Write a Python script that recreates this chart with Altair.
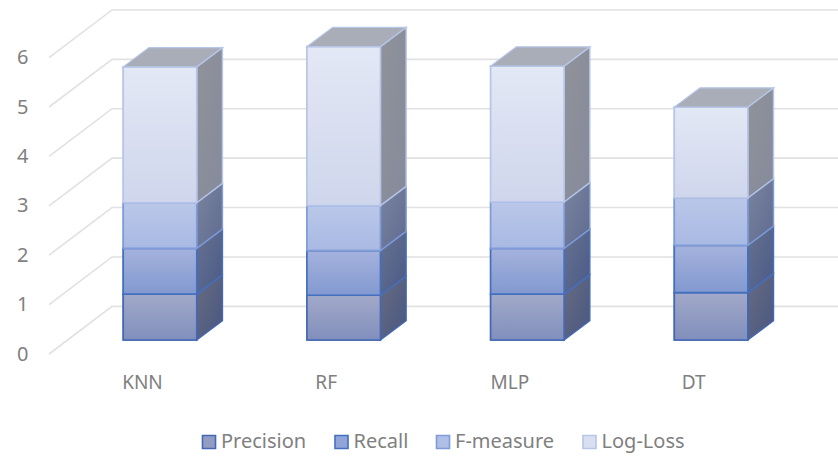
import altair as alt
import pandas as pd

models = ["KNN", "RF", "MLP", "DT"]
series = ["Precision", "Recall", "F-measure", "Log-Loss"]
precision = [0.93, 0.905, 0.93, 0.96]
recall = [0.925, 0.905, 0.925, 0.955]
f_measure = [0.925, 0.91, 0.94, 0.96]
log_loss = [2.75, 3.22, 2.75, 1.84]
y_ticks = [0, 1, 2, 3, 4, 5, 6]

swatch_fill = ["#939dc4", "#92a5d8", "#afbfe6", "#d9dff1"]
edge = ["#4468b4", "#4470c0", "#7f9cd8", "#b6c5e8"]
front_top = ["#a2a9c9", "#a5b2dd", "#bac7e9", "#e3e8f5"]
front_bottom = ["#818fbc", "#8299d0", "#a8b9e3", "#cfd6ec"]
side_top = ["#686c82", "#68728f", "#7a849f", "#909399"]
side_bottom = ["#485680", "#4a5a88", "#5f6b90", "#858a9c"]
cap_fill = "#a9adb8"
grid_color = "#e1e1e1"
text_color = "#808080"
font = "Noto Sans"

half_bar = 0.2
depth_x = 0.14
depth_y = 0.39

totals = [0.0] * len(models)
front_rows, side_rows, cap_rows = [], [], []
for name, vals in zip(series, [precision, recall, f_measure, log_loss]):
    for i, (model, v) in enumerate(zip(models, vals)):
        lo, hi = totals[i], totals[i] + v
        totals[i] = hi
        left, right = i - half_bar, i + half_bar
        front_rows.append(dict(model=model, series=name, x=left, x2=right, y=lo, y2=hi))
        for x, dy in [(right, 0.0), (right + depth_x, depth_y)]:
            side_rows.append(dict(model=model, series=name, x=x, y=lo + dy, y2=hi + dy))

for i, (model, top) in enumerate(zip(models, totals)):
    left, right = i - half_bar, i + half_bar
    cap_rows += [
        dict(model=model, x=left, y=top, y2=top),
        dict(model=model, x=left + depth_x, y=top, y2=top + depth_y),
        dict(model=model, x=right, y=top, y2=top + depth_y),
        dict(model=model, x=right + depth_x, y=top + depth_y, y2=top + depth_y),
    ]

front = pd.DataFrame(front_rows)
side = pd.DataFrame(side_rows)
cap = pd.DataFrame(cap_rows)

# Back-wall gridlines: a diagonal run along the floor edge, then the wall itself.
grid_rows = []
for t in y_ticks:
    grid_rows += [
        dict(tick=t, x=-0.604, y=t - 0.283),
        dict(tick=t, x=-0.261, y=t + 0.682),
        dict(tick=t, x=3.691, y=t + 0.682),
    ]
grid = pd.DataFrame(grid_rows)

x_scale = alt.Scale(domain=[-0.871, 3.691], nice=False, zero=False)
y_scale = alt.Scale(domain=[-2.368, 6.883], nice=False, zero=False)
label_array = "[" + ",".join(f"'{m}'" for m in models) + "]"

x_axis = alt.Axis(
    values=list(range(len(models))), labelExpr=f"{label_array}[datum.value]",
    domain=False, ticks=False, grid=False, title=None, orient="bottom", offset=-84,
    labelOffset=-18, labelPadding=0, labelFontSize=19, labelFont=font,
    labelColor=text_color, labelOverlap=False, labelFlush=False,
)
y_axis = alt.Axis(
    values=y_ticks, domain=False, ticks=False, grid=False, title=None, offset=-30,
    labelOffset=14, labelPadding=2, labelFontSize=20, labelFont=font,
    labelColor=text_color, labelOverlap=False, labelFlush=False, format="d",
)
x_enc = alt.X("x:Q", scale=x_scale, axis=x_axis)
y_enc = alt.Y("y:Q", scale=y_scale, axis=y_axis)


def gradient(c0, c1, x2=0, y2=1):
    return alt.Gradient(
        gradient="linear", x1=0, y1=0, x2=x2, y2=y2,
        stops=[alt.GradientStop(offset=0, color=c0), alt.GradientStop(offset=1, color=c1)],
    )


grid_layer = alt.Chart(grid).mark_line(color=grid_color, strokeWidth=1.6).encode(
    x=x_enc, y=y_enc, detail="tick:N",
)

# Solid bars carry the legend; the shaded faces are laid over them.
base_bars = alt.Chart(front).mark_rect(strokeWidth=1.6).encode(
    x=x_enc,
    x2="x2:Q",
    y=y_enc,
    y2="y2:Q",
    fill=alt.Fill("series:N", scale=alt.Scale(domain=series, range=swatch_fill), legend=alt.Legend(
        orient="none", legendX=199, legendY=432, direction="horizontal", columns=4, title=None,
        symbolType="square", symbolSize=170, symbolStrokeWidth=1.6, labelFont=font,
        labelFontSize=20, labelColor=text_color, labelOffset=2, columnPadding=24.5,
    )),
    stroke=alt.Stroke("series:N", scale=alt.Scale(domain=series, range=edge)),
)

layers = [grid_layer, base_bars]
for k, name in enumerate(series):
    layers.append(
        alt.Chart(side[side.series == name]).mark_area(
            orient="vertical", color=gradient(side_top[k], side_bottom[k], x2=1, y2=1),
            stroke=edge[k], strokeWidth=1.4,
        ).encode(x=x_enc, y=y_enc, y2="y2:Q", detail="model:N")
    )
    layers.append(
        alt.Chart(front[front.series == name]).mark_rect(
            color=gradient(front_top[k], front_bottom[k]), stroke=edge[k], strokeWidth=1.6,
        ).encode(x=x_enc, x2="x2:Q", y=y_enc, y2="y2:Q")
    )

layers.append(
    alt.Chart(cap).mark_area(orient="vertical", color=cap_fill, stroke=edge[3], strokeWidth=1.2).encode(
        x=x_enc, y=y_enc, y2="y2:Q", detail="model:N",
    )
)

chart = alt.layer(*layers).properties(
    width=838, height=457, padding=0, autosize=alt.AutoSizeParams(type="none"), background="white",
).configure_view(stroke=None)

chart.save("out.html", embed_options={"renderer": "svg", "actions": False})
